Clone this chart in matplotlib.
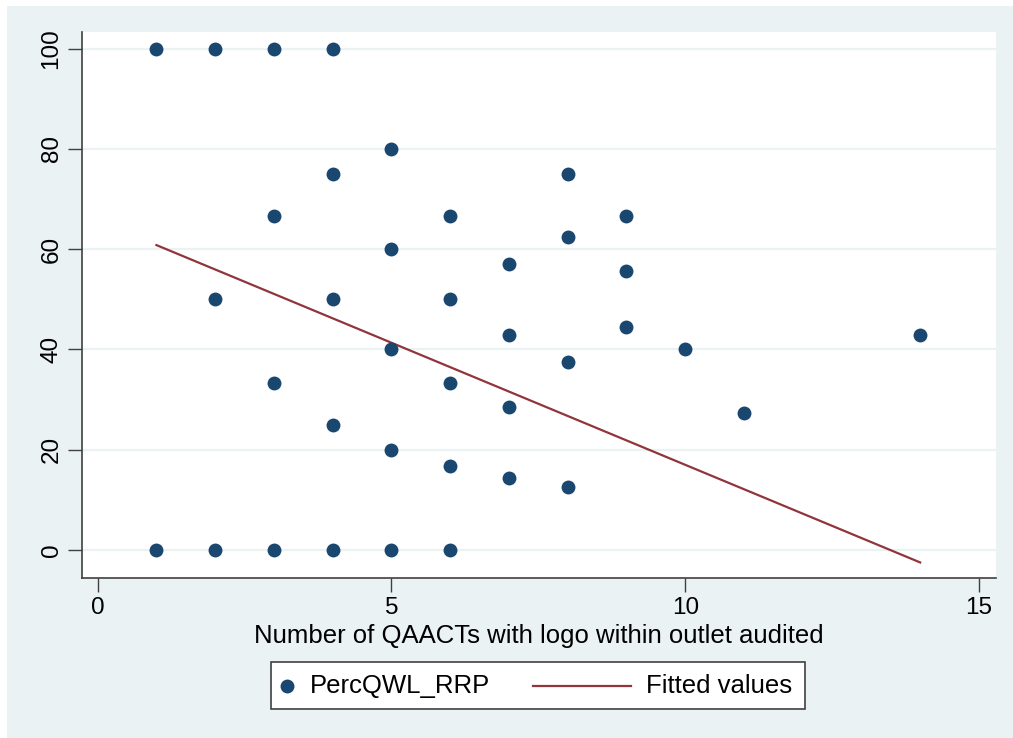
import matplotlib
matplotlib.use('Agg')
import matplotlib.pyplot as plt
from matplotlib.patches import Rectangle
from matplotlib.lines import Line2D

plt.rcParams['font.family'] = ['Liberation Sans', 'DejaVu Sans']

# Scatter data: number of QAACTs with logo vs PercQWL_RRP
n_qaacts = [1, 1,
            2, 2, 2,
            3, 3, 3, 3,
            4, 4, 4, 4, 4,
            5, 5, 5, 5, 5,
            6, 6, 6, 6, 6,
            7, 7, 7, 7,
            8, 8, 8, 8,
            9, 9, 9,
            10, 11, 14]
perc_qwl = [100, 0,
            100, 50, 0,
            100, 66.7, 33.3, 0,
            100, 75, 50, 25, 0,
            80, 60, 40, 20, 0,
            66.7, 50, 33.3, 16.7, 0,
            57.1, 42.9, 28.6, 14.3,
            75, 62.5, 37.5, 12.5,
            66.7, 55.6, 44.4,
            40, 27.3, 42.9]

# Fitted values (line endpoints)
fit_x = [1, 14]
fit_y = [60.8, -2.5]

xticks = [0, 5, 10, 15]
yticks = [0, 20, 40, 60, 80, 100]
labels = ['PercQWL_RRP', 'Fitted values']

navy = '#1a476f'
maroon = '#90353b'
bg = '#eaf2f3'
edge = '#404040'

W, H = 1013, 738
fig = plt.figure(figsize=(W / 100, H / 100), dpi=100)
fig.patch.set_facecolor('white')
fig.patches.append(Rectangle((7 / W, 0), 1 - 7 / W, 1 - 6 / H,
                             transform=fig.transFigure, facecolor=bg,
                             edgecolor='none', zorder=-10))

ax = fig.add_axes([82 / W, 1 - 578 / H, (996 - 82) / W, (578 - 32) / H])
ax.set_facecolor('white')

ax.scatter(n_qaacts, perc_qwl, s=100, color=navy, zorder=3, linewidths=0)
ax.plot(fit_x, fit_y, color=maroon, lw=1.6, zorder=2)

ax.set_xlim(-0.267, 15.29)
ax.set_ylim(-5.6, 103.3)
ax.set_xticks(xticks)
ax.set_yticks(yticks)
ax.set_xticklabels([str(t) for t in xticks], fontsize=17.5)
ax.set_yticklabels([str(t) for t in yticks], fontsize=17.5, rotation=90, va='center')

ax.grid(axis='y', color=bg, lw=1.6)
ax.grid(axis='x', visible=False)
ax.set_axisbelow(True)

for s in ['top', 'right']:
    ax.spines[s].set_visible(False)
for s in ['left', 'bottom']:
    ax.spines[s].set_color(edge)
    ax.spines[s].set_linewidth(1.2)
ax.tick_params(axis='both', direction='out', length=10, width=1.0, color=edge, pad=4)

ax.set_xlabel('Number of QAACTs with logo within outlet audited', fontsize=18.5, labelpad=3)

# legend drawn by hand so the marker key stays narrow like Stata's
def fx(px):
    return px / W

def fy(py):
    return 1 - py / H

fig.patches.append(Rectangle((fx(271), fy(709)), fx(805) - fx(271), fy(662) - fy(709),
                             transform=fig.transFigure, facecolor='white',
                             edgecolor=edge, lw=1.2, zorder=5))
fig.lines.append(Line2D([fx(287)], [fy(686)], transform=fig.transFigure, marker='o',
                        ls='none', color=navy, markersize=10, markeredgewidth=0, zorder=6))
fig.text(fx(310), fy(686), labels[0], fontsize=18.5, va='center', ha='left', zorder=6)
fig.lines.append(Line2D([fx(533), fx(631)], [fy(686), fy(686)], transform=fig.transFigure,
                        color=maroon, lw=1.6, zorder=6))
fig.text(fx(646), fy(686), labels[1], fontsize=18.5, va='center', ha='left', zorder=6)

fig.savefig('out.png', dpi=100)
